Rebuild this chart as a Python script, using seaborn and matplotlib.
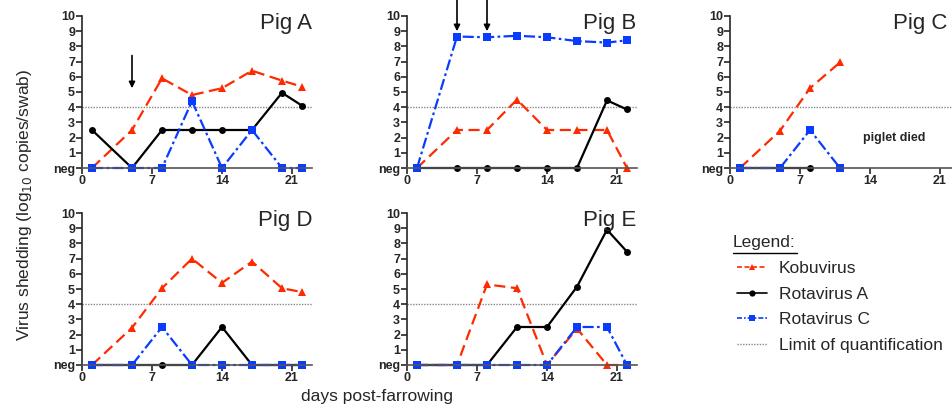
import numpy as np
import pandas as pd
import seaborn as sns
import matplotlib.pyplot as plt
from matplotlib.lines import Line2D

sns.set_theme(style="ticks")
plt.rcParams['font.family'] = ['Liberation Sans', 'DejaVu Sans']

days = [1, 5, 8, 11, 14, 17, 20, 22]

# pig A
kobu_a = [0, 2.5, 5.9, 4.8, 5.25, 6.4, 5.75, 5.35]
rota_a_a = [2.5, 0, 2.5, 2.5, 2.5, 2.5, 4.95, 4.1]
rota_c_a = [0, 0, 0, 4.4, 0, 2.5, 0, 0]
# pig B
kobu_b = [0, 2.5, 2.5, 4.5, 2.5, 2.5, 2.5, 0]
rota_a_b = [0, 0, 0, 0, 0, 0, 4.45, 3.85]
rota_c_b = [0, 8.65, 8.6, 8.7, 8.6, 8.35, 8.25, 8.4]
# pig C (died after day 11)
days_c = [1, 5, 8, 11]
kobu_c = [0, 2.45, 5.25, 6.95]
rota_a_c = [0, 0, 0]
rota_c_c = [0, 0, 2.5, 0]
# pig D
kobu_d = [0, 2.45, 5.05, 7.0, 5.4, 6.8, 5.05, 4.8]
rota_a_d = [0, 0, 0, 0, 2.5, 0, 0, 0]
rota_c_d = [0, 0, 2.5, 0, 0, 0, 0, 0]
# pig E
kobu_e = [0, 0, 5.3, 5.05, 0, 2.4, 0, 0]
rota_a_e = [0, 0, 0, 2.5, 2.5, 5.15, 8.9, 7.45]
rota_c_e = [0, 0, 0, 0, 0, 2.5, 2.5, 0]

lod = 4
ytick_labels = ['neg'] + [str(i) for i in range(1, 11)]
xticks = [0, 7, 14, 21]

red = '#ff2a00'
blue = '#0a3cff'

panels = {
    'Pig A': (days, kobu_a, rota_a_a, rota_c_a),
    'Pig B': (days, kobu_b, rota_a_b, rota_c_b),
    'Pig C': (days_c, kobu_c, rota_a_c, rota_c_c),
    'Pig D': (days, kobu_d, rota_a_d, rota_c_d),
    'Pig E': (days, kobu_e, rota_a_e, rota_c_e),
}
# axes rectangles in pixels: left, top, right, bottom
rects = {
    'Pig A': (82, 16, 312, 168),
    'Pig B': (407, 16, 637, 168),
    'Pig C': (730, 16, 960, 168),
    'Pig D': (82, 213, 312, 365),
    'Pig E': (407, 213, 637, 365),
}
# right edge of the panel name, in pixels
title_right = {'Pig A': 312, 'Pig B': 636, 'Pig C': 947, 'Pig D': 312, 'Pig E': 636}
arrows = {'Pig A': [(5, 7.4, 5.25)], 'Pig B': [(5, 11.1, 9.0), (8, 11.1, 9.0)]}

W, H = 952, 412
fig = plt.figure(figsize=(W / 100, H / 100), dpi=100)

kw = dict(linewidth=1.6, clip_on=False, markeredgewidth=0)
for name, (x, kobu, ra, rc) in panels.items():
    l, t, r, b = rects[name]
    ax = fig.add_axes([l / W, 1 - b / H, (r - l) / W, (b - t) / H])
    ax.axhline(lod, color='#888888', linestyle=(0, (1, 1)), linewidth=1.0, zorder=1)
    sns.lineplot(x=x, y=kobu, ax=ax, color=red, linestyle=(0, (5, 2.5)),
                 marker='^', markersize=6, **kw)
    sns.lineplot(x=x[:len(ra)], y=ra, ax=ax, color='black', linestyle='-',
                 marker='o', markersize=5, **kw)
    sns.lineplot(x=x, y=rc, ax=ax, color=blue, linestyle=(0, (5, 1.5, 1.2, 1.5)),
                 marker='s', markersize=6, **kw)
    ax.set_xlim(0, 23)
    ax.set_ylim(0, 10)
    ax.set_yticks(range(11))
    ax.set_yticklabels(ytick_labels)
    ax.set_xticks(xticks)
    ax.tick_params(length=4, width=1.2, pad=1, labelsize=9)
    for lab in ax.get_xticklabels() + ax.get_yticklabels():
        lab.set_fontweight('bold')
    ax.spines['top'].set_visible(False)
    ax.spines['right'].set_visible(False)
    ax.spines['left'].set_linewidth(1.2)
    ax.spines['bottom'].set_linewidth(1.2)
    ax.spines['bottom'].set_color('#555555')
    ax.patch.set_alpha(0)
    fig.text(title_right[name] / W, 1 - (t - 3) / H, name, ha='right', va='top', fontsize=16)
    for ax_x, y0, y1 in arrows.get(name, []):
        ax.annotate('', xy=(ax_x, y1), xytext=(ax_x, y0), annotation_clip=False,
                    arrowprops=dict(arrowstyle='-|>', color='black', lw=1.2,
                                    mutation_scale=9, shrinkA=0, shrinkB=0))
    if name == 'Pig C':
        ax.text(16.4, 2.0, 'piglet died', ha='center', va='center',
                fontsize=9, fontweight='bold')

fig.text(25 / W, 1 - 205 / H, 'Virus shedding (log$_{10}$ copies/swab)', rotation=90,
         ha='center', va='center', fontsize=12.5)
fig.text(377 / W, 1 - 396 / H, 'days post-farrowing', ha='center', va='center', fontsize=12.5)

fig.text(733 / W, 1 - 243 / H, 'Legend:', ha='left', va='center', fontsize=12.5)
fig.add_artist(Line2D([733 / W, 797 / W], [1 - 253 / H, 1 - 253 / H], color='black', lw=1.0))

handles = [
    Line2D([], [], color=red, linestyle=(0, (3, 1.5)), marker='^', markersize=5, lw=1.2, markeredgewidth=0),
    Line2D([], [], color='black', linestyle='-', marker='o', markersize=4.5, lw=1.2, markeredgewidth=0),
    Line2D([], [], color=blue, linestyle=(0, (3, 1.2, 1, 1.2)), marker='s', markersize=5, lw=1.2, markeredgewidth=0),
    Line2D([], [], color='#888888', linestyle=(0, (1, 1)), lw=1.0),
]
labels = ['Kobuvirus', 'Rotavirus A', 'Rotavirus C', 'Limit of quantification']
fig.legend(handles, labels, loc='upper left', bbox_to_anchor=(737 / W, 1 - 261 / H),
           frameon=False, fontsize=12.5, handlelength=1.7, handletextpad=0.7,
           labelspacing=0.6, borderpad=0, borderaxespad=0)

fig.savefig('out.png', dpi=100)
